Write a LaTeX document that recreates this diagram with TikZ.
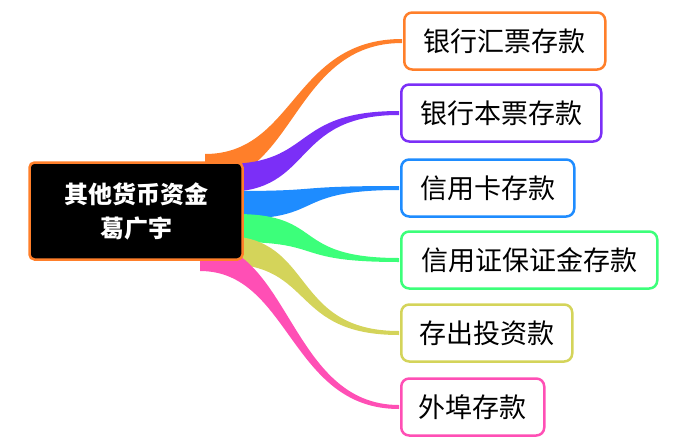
\documentclass[tikz,border=0pt]{standalone}
\usepackage{fontspec}
\setmainfont{Noto Sans CJK SC}
\usetikzlibrary{calc}
\definecolor{corange}{HTML}{FF7F2A}
\definecolor{cpurple}{HTML}{7B2FF7}
\definecolor{cblue}{HTML}{1E8CFF}
\definecolor{cgreen}{HTML}{3CFF7A}
\definecolor{cyellow}{HTML}{D4D45A}
\definecolor{cpink}{HTML}{FF4FB5}
\tikzset{
  rootbox/.style={draw=corange, line width=2.5pt, fill=black, text=white, rounded corners=5pt,
    minimum width=213pt, minimum height=97pt, align=center, font=\fontsize{24}{34}\selectfont\bfseries},
  leafbox/.style={draw=#1, line width=2.5pt, fill=white, rounded corners=8pt, anchor=west,
    minimum height=57pt, inner xsep=0pt, font=\fontsize{27}{30}\selectfont}
}
\begin{document}
\begin{tikzpicture}[x=1pt, y=-1pt]
    \useasboundingbox (0,0) rectangle (682,442);

    % Branch start points
    \coordinate (s1) at (205,168);
    \coordinate (s2) at (225,178);
    \coordinate (s3) at (236,205);
    \coordinate (s4) at (236,228);
    \coordinate (s5) at (225,250);
    \coordinate (s6) at (200,257);

    % Leaves
    \node[leafbox=corange, minimum width=201pt] (l1) at (403,41) {银行汇票存款};
    \node[leafbox=cpurple, minimum width=200pt] (l2) at (400,113) {银行本票存款};
    \node[leafbox=cblue, minimum width=173pt] (l3) at (400,188) {信用卡存款};
    \node[leafbox=cgreen, minimum width=256pt] (l4) at (400,260) {信用证保证金存款};
    \node[leafbox=cyellow, minimum width=171pt] (l5) at (400,333) {存出投资款};
    \node[leafbox=cpink, minimum width=143pt] (l6) at (400,407) {外埠存款};

    % Branches
    \foreach \i/\c in {1/corange,2/cpurple,3/cblue,4/cgreen,5/cyellow,6/cpink}{
        \fill[\c] ($(s\i)+(0,-14)$) .. controls ($(s\i)+(90,-14)$) and ($(l\i.west)+(-110,-2)$) .. ($(l\i.west)+(-1,-2)$)
            -- ($(l\i.west)+(-1,2)$) .. controls ($(l\i.west)+(-110,2)$) and ($(s\i)+(90,14)$) .. ($(s\i)+(0,14)$) -- cycle;
    }

    % Root
    \node[rootbox] (root) at (136,211) {其他货币资金\\葛广宇};
\end{tikzpicture}
\end{document}
